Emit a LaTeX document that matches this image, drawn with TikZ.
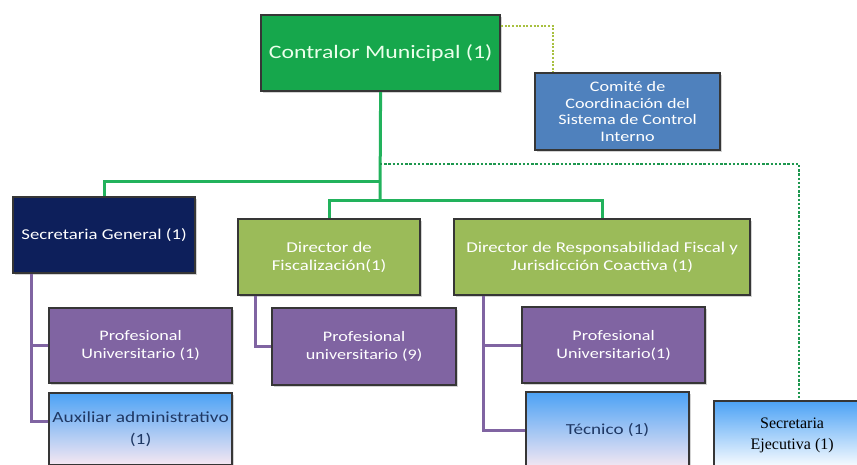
\documentclass[tikz,border=0pt]{standalone}
\usepackage{fontspec}
\setmainfont{Carlito}[FakeStretch=1.25]
\newfontfamily\serifb{Liberation Serif}
\usetikzlibrary{shadows}
\definecolor{cmgreen}{HTML}{16A74C}
\definecolor{lngreen}{HTML}{22B25C}
\definecolor{cbblue}{HTML}{4F81BD}
\definecolor{sgnavy}{HTML}{0D1F5B}
\definecolor{olive}{HTML}{9BBB59}
\definecolor{purp}{HTML}{8064A2}
\definecolor{gtop}{HTML}{4CA2F5}
\definecolor{gbot}{HTML}{F6E8F2}
\definecolor{bordr}{HTML}{363636}
\definecolor{dkblue}{HTML}{1F3864}
\definecolor{dotyel}{HTML}{A8C040}
\tikzset{
  box/.style={draw=bordr, line width=2.2pt, rectangle, anchor=north west, align=center,
    inner sep=2pt, drop shadow={shadow xshift=1.5pt, shadow yshift=-1.5pt, opacity=0.35}},
  grad/.style={box, top color=gtop, bottom color=gbot},
  gline/.style={draw=lngreen, line width=3pt},
  pline/.style={draw=purp, line width=3pt},
  dotA/.style={draw=dotyel, line width=2.4pt, dash pattern=on 2pt off 1.6pt},
  dotB/.style={draw=lngreen!85!black, line width=2.8pt, dash pattern=on 2.4pt off 1.8pt},
}
\begin{document}
\begin{tikzpicture}[x=1pt,y=-1pt]
\useasboundingbox (0,0) rectangle (857,465);
\clip (0,0) rectangle (857,465);
% nodes
\node[box, fill=cmgreen, minimum width=239pt, minimum height=76pt, text=green!8!white,
  font=\fontsize{19}{22}\selectfont] (cm) at (260,14) {Contralor Municipal (1)};
\node[box, fill=cbblue, minimum width=185pt, minimum height=77pt, text=white,
  font=\fontsize{14.5}{16.8}\selectfont] (cb) at (534,72)
  {Comité de\\Coordinación del\\Sistema de Control\\Interno};
\node[box, fill=sgnavy, minimum width=182pt, minimum height=76pt, text=white,
  font=\fontsize{15}{17}\selectfont] (sg) at (12,196) {Secretaria General (1)};
\node[box, fill=olive, minimum width=182pt, minimum height=76pt, text=white,
  font=\fontsize{15}{17.5}\selectfont] (df) at (237,218) {Director de\\Fiscalización(1)};
\node[box, fill=olive, minimum width=296pt, minimum height=76pt, text=white,
  font=\fontsize{15}{17.5}\selectfont] (dr) at (453,218)
  {Director de Responsabilidad Fiscal y\\Jurisdicción Coactiva (1)};
\node[box, fill=purp, minimum width=183pt, minimum height=75pt, text=white,
  font=\fontsize{14.5}{18}\selectfont] (pu1) at (48,307) {Profesional\\Universitario (1)};
\node[box, fill=purp, minimum width=184pt, minimum height=77pt, text=white,
  font=\fontsize{14.5}{18}\selectfont] (pu9) at (271,307) {Profesional\\universitario (9)};
\node[box, fill=purp, minimum width=183pt, minimum height=76pt, text=white,
  font=\fontsize{14.5}{18}\selectfont] (pu2) at (521,306) {Profesional\\Universitario(1)};
\node[grad, minimum width=183pt, minimum height=72pt, text=dkblue,
  font=\fontsize{15.5}{22}\selectfont] (aux) at (48,392) {Auxiliar administrativo\\(1)};
\node[grad, minimum width=163pt, minimum height=76pt, text=dkblue,
  font=\fontsize{15.3}{18}\selectfont] (tec) at (525,391) {Técnico (1)};
\node[box, top color=gtop, bottom color=white, minimum width=156pt, minimum height=68pt,
  text=black, font=\serifb\fontsize{16}{21}\selectfont] (se) at (713,400)
  {Secretaria\\Ejecutiva (1)};
% junctions
\coordinate (j0) at (380,164);
\coordinate (j1) at (380,182);
\coordinate (j2) at (380,201);
% green connectors
\draw[gline] (cm.south) -- (j2);
\draw[gline] (j1) -| (sg.north);
\draw[gline] (df.north) |- (j2) -| (dr.north);
% dotted
\draw[dotA] ([yshift=-12pt]cm.north east) -| ([xshift=19pt]cb.north west);
\draw[dotB] (j0) -| ([xshift=86pt]se.north west);
% purple connectors
\draw[pline] ([xshift=19pt]sg.south west) |- (pu1.west);
\draw[pline] ([xshift=19pt]sg.south west) |- ([yshift=8pt]aux.west);
\draw[pline] ([xshift=18pt]df.south west) |- (pu9.west);
\draw[pline] ([xshift=30pt]dr.south west) |- (pu2.west);
\draw[pline] ([xshift=30pt]dr.south west) |- (tec.west);
\end{tikzpicture}
\end{document}
